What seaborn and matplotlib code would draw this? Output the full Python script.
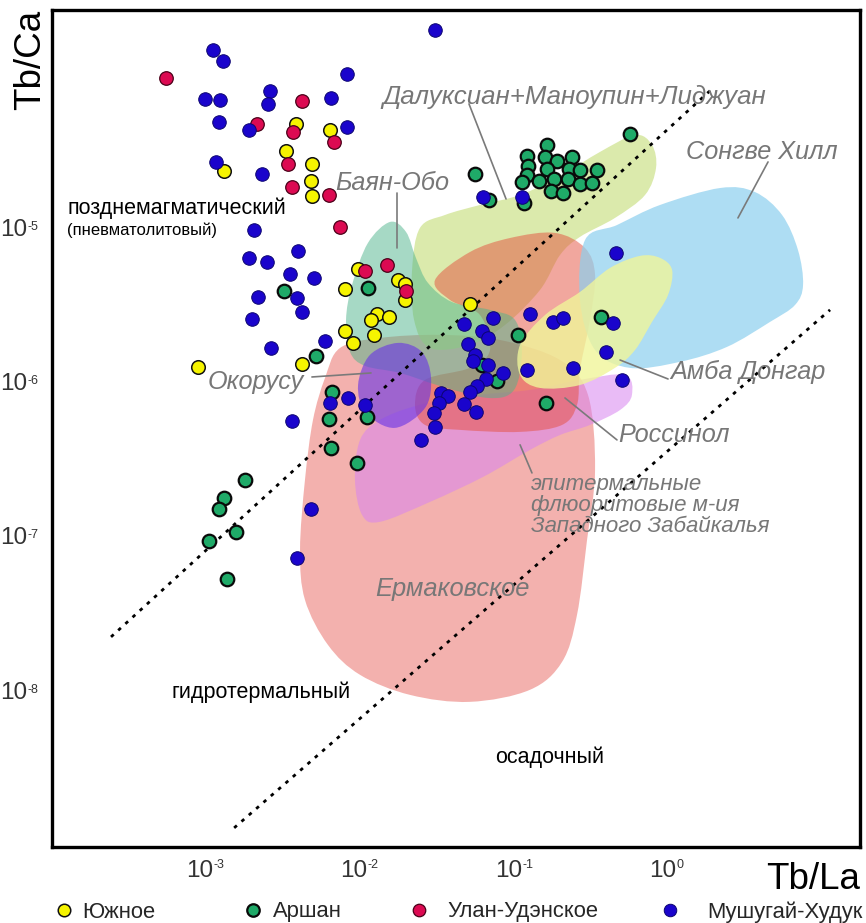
import numpy as np
import pandas as pd
import matplotlib
matplotlib.use("Agg")
import matplotlib.pyplot as plt
from matplotlib.path import Path
from matplotlib.patches import PathPatch
from matplotlib.lines import Line2D
from matplotlib.ticker import FixedLocator, NullFormatter
import seaborn as sns

sns.set_theme(style="white")
plt.rcParams['font.family'] = ['Liberation Sans', 'DejaVu Sans']

# ---------------- data: sample points (Tb/La, Tb/Ca) ----------------
yuzhnoe_tbla = [3.8e-3, 6.3e-3, 3.25e-3, 4.8e-3, 1.29e-3, 4.7e-3, 4.8e-3, 9.5e-3, 1.73e-2, 1.92e-2,
                1.92e-2, 7.8e-3, 1.26e-2, 1.16e-2, 1.51e-2, 7.8e-3, 8.8e-3, 1.21e-2, 4.1e-3, 8.7e-4, 5.06e-2]
yuzhnoe_tbca = [4.86e-5, 4.45e-5, 3.25e-5, 2.68e-5, 2.41e-5, 2.08e-5, 1.66e-5, 5.59e-6, 4.74e-6, 4.47e-6,
                3.52e-6, 4.15e-6, 2.85e-6, 2.61e-6, 2.73e-6, 2.22e-6, 1.85e-6, 2.09e-6, 1.35e-6, 1.29e-6, 3.31e-6]

arshan_tbla = [0.551, 0.0546, 0.0673, 0.113, 0.160, 0.119, 0.155, 0.185, 0.232, 0.120, 0.160, 0.222,
               0.261, 0.337, 0.119, 0.142, 0.177, 0.219, 0.261, 0.313, 0.110, 0.170, 0.203, 0.358,
               0.104, 0.0606, 0.0757, 0.157, 3.16e-3, 1.10e-2, 5.09e-3, 6.46e-3, 6.18e-3, 1.09e-2,
               6.37e-3, 9.38e-3, 1.76e-3, 1.29e-3, 1.20e-3, 1.54e-3, 1.03e-3, 1.35e-3]
arshan_tbca = [4.19e-5, 2.31e-5, 1.56e-5, 1.50e-5, 3.56e-5, 3.02e-5, 2.97e-5, 2.80e-5, 2.97e-5, 2.60e-5,
               2.48e-5, 2.48e-5, 2.45e-5, 2.45e-5, 2.27e-5, 2.08e-5, 2.14e-5, 2.14e-5, 1.99e-5, 2.02e-5,
               2.05e-5, 1.79e-5, 1.74e-5, 2.73e-6, 2.09e-6, 1.33e-6, 1.05e-6, 7.57e-7, 4.02e-6, 4.21e-6,
               1.53e-6, 8.91e-7, 5.96e-7, 6.14e-7, 3.87e-7, 3.09e-7, 2.40e-7, 1.83e-7, 1.56e-7, 1.10e-7,
               9.64e-8, 5.47e-8]

ulanude_tbla = [5.4e-4, 4.1e-3, 2.11e-3, 3.6e-3, 6.65e-3, 3.35e-3, 3.56e-3, 6.2e-3, 7.3e-3, 1.47e-2,
                1.06e-2, 1.95e-2]
ulanude_tbca = [9.66e-5, 6.86e-5, 4.86e-5, 4.32e-5, 3.72e-5, 2.68e-5, 1.90e-5, 1.69e-5, 1.05e-5, 5.93e-6,
                5.42e-6, 4.02e-6]

mushugai_tbla = [0.0300, 1.09e-3, 1.27e-3, 8.08e-3, 9.7e-4, 1.21e-3, 2.56e-3, 2.48e-3, 6.37e-3, 1.20e-3,
                 1.87e-3, 8.08e-3, 1.14e-3, 2.27e-3, 2.02e-3, 1.87e-3, 2.45e-3, 3.89e-3, 3.45e-3, 4.94e-3,
                 2.14e-3, 3.83e-3, 1.96e-3, 4.13e-3, 2.60e-3, 5.82e-3, 8.20e-3, 6.27e-3, 1.06e-2, 3.56e-3,
                 2.44e-2, 4.72e-3, 3.83e-3, 0.0615, 0.110, 0.448, 0.0463, 0.0714, 0.124, 0.175, 0.203,
                 0.428, 0.385, 0.490, 0.236, 0.119, 0.0606, 0.0662, 0.0492, 0.0546, 0.0530, 0.0662,
                 0.0828, 0.0643, 0.0562, 0.0506, 0.0463, 0.0553, 0.0329, 0.0365, 0.0319, 0.0296, 0.0300]
mushugai_tbca = [1.98e-4, 1.47e-4, 1.25e-4, 1.03e-4, 7.06e-5, 6.96e-5, 7.96e-5, 6.56e-5, 7.17e-5, 5.01e-5,
                 4.45e-5, 4.65e-5, 2.76e-5, 2.31e-5, 1.0e-5, 6.59e-6, 6.21e-6, 7.31e-6, 5.19e-6, 4.89e-6,
                 3.68e-6, 3.62e-6, 2.65e-6, 2.94e-6, 1.72e-6, 1.91e-6, 8.15e-7, 7.57e-7, 7.34e-7, 5.78e-7,
                 4.36e-7, 1.56e-7, 7.48e-8, 1.64e-5, 1.64e-5, 7.10e-6, 2.46e-6, 2.69e-6, 2.85e-6, 2.53e-6,
                 2.69e-6, 2.50e-6, 1.62e-6, 1.07e-6, 1.28e-6, 1.24e-6, 2.22e-6, 2.00e-6, 1.82e-6, 1.55e-6,
                 1.42e-6, 1.33e-6, 1.18e-6, 1.08e-6, 9.75e-7, 8.91e-7, 7.45e-7, 6.61e-7, 8.78e-7, 8.40e-7,
                 7.57e-7, 6.52e-7, 5.29e-7]

group_names = ["Южное", "Аршан", "Улан-Удэнское", "Мушугай-Худук"]

# axis ticks (decades) and their exponent labels
x_tick_exponents = [-3, -2, -1, 0]
y_tick_exponents = [-8, -7, -6, -5]

# ---------------- field outlines (log10 Tb/La, log10 Tb/Ca) ----------------
ermakovskoe_log = [(-2.138, -5.765), (-1.879, -5.700), (-1.490, -5.680), (-1.101, -5.713), (-0.712, -5.843),
                   (-0.531, -6.069), (-0.485, -6.555), (-0.537, -7.009), (-0.602, -7.495), (-0.699, -7.800),
                   (-0.907, -7.981), (-1.296, -8.059), (-1.684, -8.014), (-2.008, -7.884), (-2.216, -7.690),
                   (-2.365, -7.398), (-2.397, -7.074), (-2.365, -6.620), (-2.313, -6.231), (-2.235, -5.959)]
epithermal_log = [(-2.008, -6.361), (-1.879, -6.231), (-1.620, -6.134), (-1.231, -6.069), (-0.907, -6.037),
                  (-0.583, -5.972), (-0.291, -5.940), (-0.246, -6.069), (-0.323, -6.167), (-0.518, -6.264),
                  (-0.712, -6.329), (-0.907, -6.426), (-1.211, -6.601), (-1.555, -6.763), (-1.879, -6.892),
                  (-1.995, -6.847), (-2.041, -6.620)]
rossinol_log = [(-1.522, -5.324), (-1.296, -5.143), (-1.036, -5.052), (-0.745, -5.019), (-0.550, -5.117),
                (-0.485, -5.292), (-0.518, -5.583), (-0.583, -5.907), (-0.602, -6.134), (-0.699, -6.264),
                (-0.971, -6.309), (-1.360, -6.296), (-1.587, -6.264), (-1.652, -6.134), (-1.587, -5.972),
                (-1.296, -5.894), (-1.166, -5.778), (-1.231, -5.551), (-1.425, -5.454)]
bayanobo_log = [(-1.814, -4.948), (-1.710, -5.013), (-1.646, -5.181), (-1.568, -5.343), (-1.412, -5.467),
                (-1.166, -5.518), (-1.004, -5.583), (-0.959, -5.791), (-1.010, -6.037), (-1.179, -6.089),
                (-1.490, -6.011), (-1.749, -5.927), (-1.976, -5.881), (-2.073, -5.791), (-2.099, -5.583),
                (-2.060, -5.356), (-1.957, -5.084)]
daluxian_log = [(-1.620, -4.987), (-1.458, -4.903), (-1.231, -4.838), (-0.971, -4.773), (-0.712, -4.650),
                (-0.453, -4.494), (-0.226, -4.384), (-0.116, -4.449), (-0.090, -4.598), (-0.161, -4.773),
                (-0.356, -4.922), (-0.583, -5.045), (-0.712, -5.162), (-0.842, -5.389), (-1.069, -5.616),
                (-1.296, -5.745), (-1.555, -5.765), (-1.658, -5.583), (-1.671, -5.259)]
songwe_log = [(-0.550, -5.065), (-0.343, -4.968), (-0.064, -4.838), (0.325, -4.728), (0.551, -4.754),
              (0.727, -4.903), (0.830, -5.130), (0.863, -5.356), (0.811, -5.486), (0.649, -5.596),
              (0.370, -5.758), (0.065, -5.855), (-0.259, -5.894), (-0.485, -5.778), (-0.583, -5.454)]
ambadongar_log = [(-0.971, -5.745), (-0.809, -5.551), (-0.583, -5.402), (-0.388, -5.246), (-0.194, -5.168),
                  (-0.064, -5.181), (0.014, -5.259), (-0.012, -5.421), (-0.116, -5.596), (-0.226, -5.778),
                  (-0.356, -5.894), (-0.583, -6.005), (-0.842, -6.024), (-0.971, -5.940)]
okorusu_log = [(-1.762, -5.732), (-1.607, -5.791), (-1.548, -5.959), (-1.587, -6.154), (-1.782, -6.283),
               (-1.970, -6.186), (-2.021, -6.005), (-1.944, -5.810)]

# boundary lines between fields (log10 endpoints)
upper_boundary_log = [(-3.622, -7.638), (0.279, -4.080)]
lower_boundary_log = [(-2.824, -8.876), (1.038, -5.518)]

# ---------------- helpers ----------------
def smooth_closed_path(points_log):
    P = np.asarray(points_log, float)
    n = len(P)
    verts = [P[0]]
    codes = [Path.MOVETO]
    for i in range(n):
        p0, p1, p2, p3 = P[i - 1], P[i], P[(i + 1) % n], P[(i + 2) % n]
        c1 = p1 + (p2 - p0) / 6.0
        c2 = p2 - (p3 - p1) / 6.0
        verts += [c1, c2, p2]
        codes += [Path.CURVE4] * 3
    verts.append(P[0])
    codes.append(Path.CLOSEPOLY)
    return Path(10 ** np.array(verts), codes)

# ---------------- figure ----------------
fig = plt.figure(figsize=(8.66, 9.23), dpi=100)
ax = fig.add_axes([52 / 866, 1 - 847 / 923, 808 / 866, 837 / 923])
ax.set_xscale('log')
ax.set_yscale('log')

regions = [
    (ermakovskoe_log, '#f09e9a', 0.80, 1.0),
    (epithermal_log, '#d884f0', 0.55, 1.1),
    (daluxian_log, '#c8df80', 0.65, 1.2),
    (rossinol_log, '#e4503e', 0.50, 1.3),
    (bayanobo_log, '#4fb48c', 0.50, 1.4),
    (songwe_log, '#8ccfee', 0.70, 1.5),
    (ambadongar_log, '#f0f59a', 0.80, 1.6),
    (okorusu_log, '#6a36e4', 0.62, 1.7),
]
for pts, col, a, z in regions:
    ax.add_patch(PathPatch(smooth_closed_path(pts), facecolor=col, edgecolor='none', alpha=a, zorder=z))

for seg in (upper_boundary_log, lower_boundary_log):
    xs = [10 ** p[0] for p in seg]
    ys = [10 ** p[1] for p in seg]
    ax.plot(xs, ys, color='black', lw=2.0, linestyle=(0, (1.3, 2.2)), zorder=3)

# leader lines (log endpoints)
leaders = [
    [(-1.302, -4.183), (-1.062, -4.799)],
    [(0.636, -4.559), (0.441, -4.922)],
    [(-1.769, -4.760), (-1.769, -5.117)],
    [(-2.320, -5.953), (-1.937, -5.927)],
    [(-0.012, -5.966), (-0.323, -5.843)],
    [(-0.343, -6.361), (-0.680, -6.089)],
    [(-0.894, -6.575), (-0.971, -6.393)],
]
for seg in leaders:
    ax.plot([10 ** p[0] for p in seg], [10 ** p[1] for p in seg], color='#7a7a7a', lw=1.2, zorder=4)

# field labels
gray = '#777777'
field_labels = [
    ("Далуксиан+Маноупин+Лиджуан", -1.866, -4.138, 18.6),
    ("Сонгве Хилл", 0.104, -4.494, 18.2),
    ("Баян-Обо", -2.170, -4.695, 18.2),
    ("Окорусу", -2.994, -5.985, 18.2),
    ("Амба Донгар", 0.001, -5.920, 18.2),
    ("Россинол", -0.336, -6.329, 18.2),
    ("эпитермальные\nфлюоритовые м-ия\nЗападного Забайкалья", -0.900, -6.789, 16),
    ("Ермаковское", -1.911, -7.327, 18.4),
]
for t, lx, ly, fs in field_labels:
    ax.text(10 ** lx, 10 ** ly, t, color=gray, style='italic', fontsize=fs, ha='left', va='center',
            linespacing=1.0, zorder=5)

zone_labels = [
    ("позднемагматический", -3.907, -4.857, 15.5),
    ("(пневматолитовый)", -3.907, -5.000, 12),
    ("гидротермальный", -3.227, -8.000, 15.5),
    ("осадочный", -1.134, -8.415, 15.5),
]
for t, lx, ly, fs in zone_labels:
    ax.text(10 ** lx, 10 ** ly, t, color='black', fontsize=fs, ha='left', va='center', zorder=5)

# points
df = pd.concat([
    pd.DataFrame({'tbla': yuzhnoe_tbla, 'tbca': yuzhnoe_tbca, 'group': group_names[0]}),
    pd.DataFrame({'tbla': arshan_tbla, 'tbca': arshan_tbca, 'group': group_names[1]}),
    pd.DataFrame({'tbla': ulanude_tbla, 'tbca': ulanude_tbca, 'group': group_names[2]}),
    pd.DataFrame({'tbla': mushugai_tbla, 'tbca': mushugai_tbca, 'group': group_names[3]}),
], ignore_index=True)

styles = {
    group_names[0]: dict(fc='#f6f400', ec='#111111', lw=1.1),
    group_names[1]: dict(fc='#1faa68', ec='#0a0a0a', lw=1.6),
    group_names[2]: dict(fc='#dc0a52', ec='#4a0018', lw=0.9),
    group_names[3]: dict(fc='#1a04cc', ec='#0c0470', lw=0.7),
}
for i, g in enumerate(group_names):
    st = styles[g]
    sns.scatterplot(data=df[df['group'] == g], x='tbla', y='tbca', ax=ax, color=st['fc'],
                    edgecolor=st['ec'], linewidth=st['lw'], s=95, legend=False, zorder=6 + i)

ax.set_xlim(10 ** -4.0045, 10 ** 1.232)
ax.set_ylim(10 ** -9.0, 10 ** -3.574)

ax.xaxis.set_major_locator(FixedLocator([10.0 ** e for e in x_tick_exponents] + [10.0]))
ax.yaxis.set_major_locator(FixedLocator([10.0 ** e for e in y_tick_exponents] + [1e-4]))
ax.xaxis.set_major_formatter(NullFormatter())
ax.yaxis.set_major_formatter(NullFormatter())
ax.xaxis.set_minor_locator(FixedLocator([]))
ax.yaxis.set_minor_locator(FixedLocator([]))
ax.tick_params(axis='both', which='major', direction='in', length=6, width=1.5, colors='black')
ax.set_xlabel('')
ax.set_ylabel('')
for sp in ax.spines.values():
    sp.set_linewidth(2.4)
    sp.set_color('black')
    sp.set_visible(True)
ax.grid(False)

# decade tick labels: large "10" with a small raised exponent
tick_col = '#333333'
for e in x_tick_exponents:
    ax.annotate('10', xy=(10.0 ** e, 0), xycoords=('data', 'axes fraction'), xytext=(4.5, -9.5),
                textcoords='offset points', ha='right', va='top', fontsize=17.5, color=tick_col,
                annotation_clip=False)
    ax.annotate(f'{e}', xy=(10.0 ** e, 0),
                xycoords=('data', 'axes fraction'), xytext=(4.8, -9.0), textcoords='offset points',
                ha='left', va='top', fontsize=9, color=tick_col, annotation_clip=False)
for e in y_tick_exponents:
    ax.annotate('10', xy=(0, 10.0 ** e), xycoords=('axes fraction', 'data'), xytext=(-18, 0),
                textcoords='offset points', ha='right', va='center', fontsize=17.5, color=tick_col,
                annotation_clip=False)
    ax.annotate(f'{e}', xy=(0, 10.0 ** e), xycoords=('axes fraction', 'data'),
                xytext=(-17.7, 6.6), textcoords='offset points', ha='left', va='top', fontsize=9,
                color=tick_col, annotation_clip=False)

fig.text(31 / 866, 1 - 10 / 923, 'Tb/Ca', rotation=90, fontsize=26.5, ha='center', va='top', color='black')
fig.text(860 / 866, 1 - 889 / 923, 'Tb/La', fontsize=26.5, ha='right', va='baseline', color='black')

# legend: one entry per group, laid out along the bottom edge
legend_fs = 15.8
em_px = legend_fs * 100 / 72
legend_marker_px = [64, 253, 419, 670]
legend_text_px = [82, 273, 447, 707]
for g, mx, tx in zip(group_names, legend_marker_px, legend_text_px):
    h = Line2D([], [], marker='o', linestyle='none', markersize=9,
               markerfacecolor=styles[g]['fc'], markeredgecolor=styles[g]['ec'],
               markeredgewidth=styles[g]['lw'])
    pad = (tx - mx - 0.5 * em_px) / em_px
    leg = fig.legend([h], [g], loc='center left', bbox_to_anchor=((mx - 0.5 * em_px) / 866, 1 - 912 / 923),
                     frameon=False, fontsize=legend_fs, handlelength=1.0, handletextpad=pad,
                     borderpad=0, borderaxespad=0)

fig.savefig('out.png', dpi=100)
